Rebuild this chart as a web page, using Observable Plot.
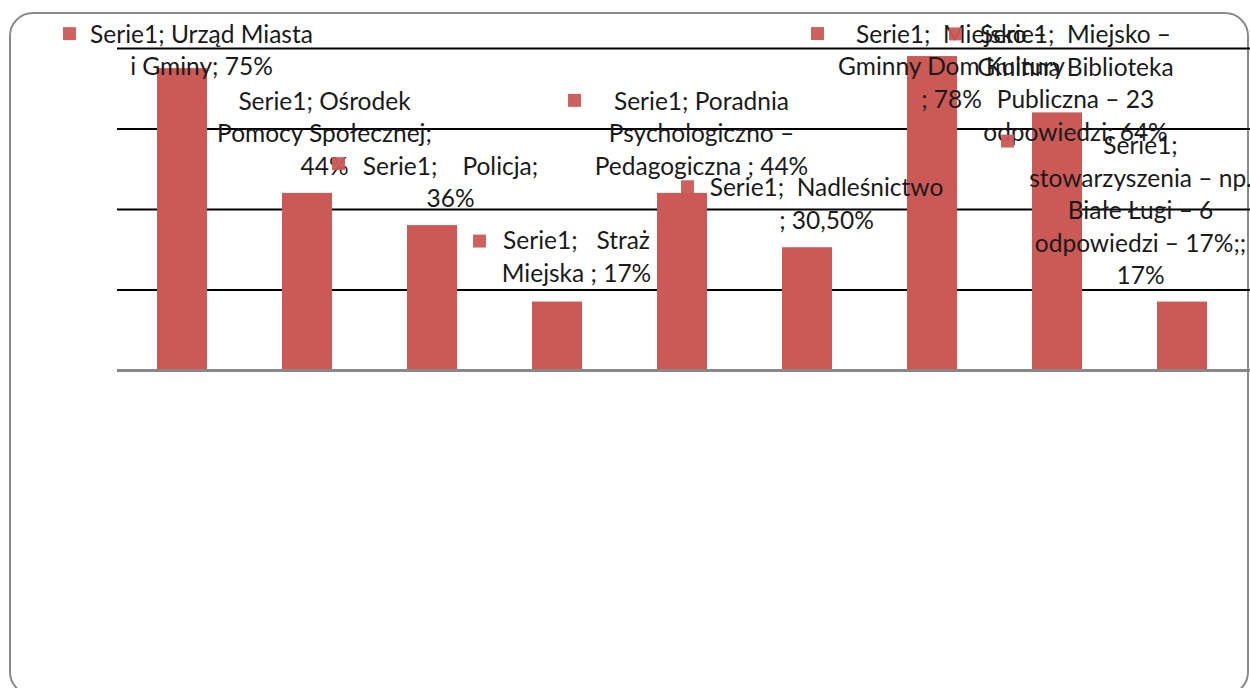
<!DOCTYPE html>
<html>
<head>
<meta charset="utf-8">
<script src="https://cdn.jsdelivr.net/npm/d3@7"></script>
<script src="https://cdn.jsdelivr.net/npm/@observablehq/plot@0.6"></script>
<style>
  html, body { margin: 0; padding: 0; background: #fff; overflow: hidden; }
  #wrap { position: relative; width: 1250px; height: 688px; }
  #border { position: absolute; left: 9px; top: 12px; width: 1236px; height: 680px;
            border: 2px solid #8a8a8a; border-radius: 24px; }
  #chart { position: absolute; left: 0; top: 0; }
  svg text { white-space: pre; }
</style>
</head>
<body>
<div id="wrap"><div id="border"></div><div id="chart"></div></div>
<script>
const series = "Serie1";
const categories = [
  "Urząd Miasta i Gminy",
  "Ośrodek Pomocy Społecznej",
  "Policja",
  "Straż Miejska",
  "Poradnia Psychologiczno – Pedagogiczna",
  "Nadleśnictwo",
  "Miejsko – Gminny Dom Kultury",
  "Miejsko – Gminna Biblioteka Publiczna – 23 odpowiedzi",
  "stowarzyszenia – np. Białe Ługi – 6 odpowiedzi – 17%;"
];
const values = [75, 44, 36, 17, 44, 30.5, 78, 64, 17];
const labelLines = [
  ["Serie1; Urząd Miasta", "i Gminy; 75%"],
  ["Serie1; Ośrodek", "Pomocy Społecznej;", "44%"],
  ["Serie1;    Policja;", "36%"],
  ["Serie1;   Straż", "Miejska ; 17%"],
  ["Serie1; Poradnia", "Psychologiczno –", "Pedagogiczna ; 44%"],
  ["Serie1;  Nadleśnictwo", "; 30,50%"],
  ["Serie1;  Miejsko –", "Gminny Dom Kultury", "; 78%"],
  ["Serie1;  Miejsko –", "Gminna Biblioteka", "Publiczna – 23", "odpowiedzi; 64%"],
  ["Serie1;", "stowarzyszenia – np.", "Białe Ługi – 6", "odpowiedzi – 17%;;", "17%"]
];
const gridTicks = [20, 40, 60, 80];

// layout offsets (pixels) of each data label relative to its bar top centre
const labelLayout = [
  {tx: 19, ty: -34, mx: -113, my: -35},
  {tx: 17, ty: -92, mx: -110, my: -93},
  {tx: 18, ty: -59, mx: -94, my: -62},
  {tx: 19, ty: -61, mx: -78, my: -61},
  {tx: 19, ty: -92, mx: -108, my: -93},
  {tx: 19, ty: -60, mx: -120, my: -61},
  {tx: 19, ty: -22, mx: -115, my: -23},
  {tx: 18, ty: -78, mx: -102, my: -79},
  {tx: -42, ty: -156, mx: -175, my: -161}
];

const data = categories.map((c, i) => ({category: c, value: values[i], label: labelLines[i].join("\n")}));

const red = "#cb5955";
const FS = 24.5;
const LH = 32.5;

const labelMarks = data.flatMap((d, i) => {
  const L = labelLayout[i];
  return [
    Plot.text([d], {x: "category", y: "value", text: "label", dx: L.tx, dy: L.ty - FS * 0.6,
      lineAnchor: "top", lineHeight: LH / FS, fontSize: FS, fill: "#1a1a1a", textAnchor: "middle",
      fontFamily: "Lato, 'Open Sans', sans-serif"}),
    Plot.dot([d], {x: "category", y: "value", dx: L.mx, dy: L.my, symbol: "square", r: 7.3, fill: red, fillOpacity: 0.95, stroke: "none"})
  ];
});

const chart = Plot.plot({
  width: 1250,
  height: 688,
  marginLeft: 117,
  marginRight: 0,
  marginTop: 48,
  marginBottom: 318,
  x: {domain: categories, range: [117, 1246], paddingInner: 0.6, paddingOuter: 0.3, axis: null},
  y: {domain: [0, 80], axis: null},
  style: {background: "transparent", overflow: "visible"},
  marks: [
    Plot.ruleY(gridTicks, {stroke: "#000", strokeWidth: 2}),
    Plot.barY(data, {x: "category", y: "value", fill: red}),
    Plot.ruleY([0], {stroke: "#888", strokeWidth: 3}),
    ...labelMarks
  ]
});
document.getElementById("chart").appendChild(chart);
</script>
</body>
</html>
